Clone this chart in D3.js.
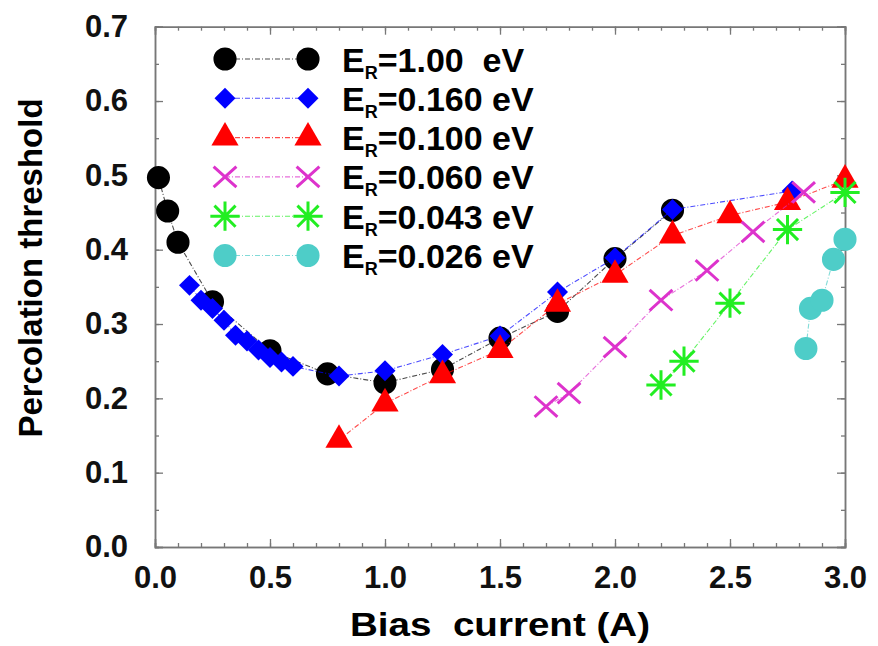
<!DOCTYPE html>
<html>
<head>
<meta charset="utf-8">
<title>Percolation threshold</title>
<script src="https://cdn.jsdelivr.net/npm/d3@7"></script>
<style>
  body { margin: 0; background: #fff; }
  svg { font-family: "Liberation Sans", Arial, Helvetica, sans-serif; font-weight: bold; }
  .frame path.domain { stroke: #777; stroke-width: 1.5; }
  .frame line { stroke: #777; stroke-width: 1.3; }
  .frame text { fill: #111; font-size: 31px; font-weight: bold; }
</style>
</head>
<body>
<script>
// series: percolation threshold vs bias current, one per E_R
var labels = ["1.00  eV", "0.160 eV", "0.100 eV", "0.060 eV", "0.043 eV", "0.026 eV"]

var x100 = [0.015, 0.055, 0.1, 0.25, 0.5, 0.75, 1.0, 1.25, 1.5, 1.75, 2.0, 2.25]
var y100 = [0.497, 0.452, 0.410, 0.330, 0.264, 0.233, 0.221, 0.239, 0.281, 0.317, 0.388, 0.453]

var x160 = [0.15, 0.2, 0.25, 0.3, 0.35, 0.4, 0.45, 0.5, 0.55, 0.6, 0.8, 1.0, 1.25, 1.5, 1.75, 2.0, 2.25, 2.77]
var y160 = [0.352, 0.332, 0.321, 0.305, 0.285, 0.277, 0.265, 0.255, 0.249, 0.243, 0.230, 0.237, 0.259, 0.284, 0.343, 0.389, 0.454, 0.479]

var x010 = [0.8, 1.0, 1.25, 1.5, 1.75, 2.0, 2.25, 2.5, 2.75, 3.0]
var y010 = [0.144, 0.193, 0.231, 0.265, 0.327, 0.366, 0.419, 0.446, 0.464, 0.494]

var x060 = [1.7, 1.8, 2.0, 2.2, 2.4, 2.6, 2.82]
var y060 = [0.189, 0.207, 0.269, 0.332, 0.372, 0.424, 0.477]

var x043 = [2.2, 2.3, 2.5, 2.75, 3.0]
var y043 = [0.218, 0.250, 0.328, 0.427, 0.477]

var x026 = [2.83, 2.85, 2.9, 2.95, 3.0]
var y026 = [0.267, 0.321, 0.332, 0.387, 0.414]

var xTicks = [0, 0.5, 1.0, 1.5, 2.0, 2.5, 3.0]
var yTicks = [0, 0.1, 0.2, 0.3, 0.4, 0.5, 0.6, 0.7]

var W = 878, H = 646
var margin = { left: 155, top: 26.7, right: 33, bottom: 99 }
var width = W - margin.left - margin.right
var height = H - margin.top - margin.bottom

var svg = d3.select("body").append("svg")
            .attr("width", W).attr("height", H)

var g = svg.append("g")
           .attr("transform", "translate(" + margin.left + "," + margin.top + ")")

var x = d3.scaleLinear().domain([0, 3]).range([0, width])
var y = d3.scaleLinear().domain([0, 0.7]).range([height, 0])

var fmt = d3.format(".1f")
var xMinor = d3.range(0, 31).map(function(i){ return i / 10 })
var yMinor = d3.range(0, 15).map(function(i){ return i / 20 })

// minor ticks on all four sides (pointing inward)
g.append("g").attr("class", "frame").attr("transform", "translate(0," + height + ")")
 .call(d3.axisBottom(x).tickValues(xMinor).tickSize(-4).tickFormat(""))
g.append("g").attr("class", "frame")
 .call(d3.axisTop(x).tickValues(xMinor).tickSize(-4).tickFormat(""))
g.append("g").attr("class", "frame")
 .call(d3.axisLeft(y).tickValues(yMinor).tickSize(-4).tickFormat(""))
g.append("g").attr("class", "frame").attr("transform", "translate(" + width + ",0)")
 .call(d3.axisRight(y).tickValues(yMinor).tickSize(-4).tickFormat(""))

// major ticks + labels
g.append("g").attr("class", "frame").attr("transform", "translate(0," + height + ")")
 .call(d3.axisBottom(x).tickValues(xTicks).tickSize(-8).tickPadding(19).tickFormat(fmt))
g.append("g").attr("class", "frame")
 .call(d3.axisTop(x).tickValues(xTicks).tickSize(-8).tickFormat(""))
g.append("g").attr("class", "frame")
 .call(d3.axisLeft(y).tickValues(yTicks).tickSize(-8).tickPadding(27).tickFormat(fmt))
g.append("g").attr("class", "frame").attr("transform", "translate(" + width + ",0)")
 .call(d3.axisRight(y).tickValues(yTicks).tickSize(-8).tickFormat(""))

// axis titles
svg.append("text")
   .attr("x", margin.left + width / 2).attr("y", 636)
   .attr("text-anchor", "middle")
   .attr("font-size", "34px")
   .attr("textLength", 300)
   .attr("lengthAdjust", "spacingAndGlyphs")
   .style("white-space", "pre")
   .text("Bias  current (A)")

svg.append("text")
   .attr("transform", "translate(42,268) rotate(-90)")
   .attr("text-anchor", "middle")
   .attr("font-size", "33px")
   .text("Percolation threshold")

// custom stroked markers
var crossSym = {
  draw: function(ctx, size) {
    var r = Math.sqrt(size) / 2
    ctx.moveTo(-r, -r * 0.9); ctx.lineTo(r, r * 0.9)
    ctx.moveTo(-r, r * 0.9); ctx.lineTo(r, -r * 0.9)
  }
}
var starSym = {
  draw: function(ctx, size) {
    var r = Math.sqrt(size) / 2, d = r * 0.72
    ctx.moveTo(-r, 0); ctx.lineTo(r, 0)
    ctx.moveTo(0, -r); ctx.lineTo(0, r)
    ctx.moveTo(-d, -d); ctx.lineTo(d, d)
    ctx.moveTo(-d, d); ctx.lineTo(d, -d)
  }
}
var diamondSym = {
  draw: function(ctx, size) {
    var r = Math.sqrt(size) / 2
    ctx.moveTo(0, -r); ctx.lineTo(r, 0); ctx.lineTo(0, r); ctx.lineTo(-r, 0); ctx.closePath()
  }
}

var series = [
  { xs: x100, ys: y100, color: "#000000", sym: d3.symbolCircle, size: 420, fill: true },
  { xs: x160, ys: y160, color: "#0000ff", sym: diamondSym, size: 440, fill: true },
  { xs: x010, ys: y010, color: "#ff0000", sym: d3.symbolTriangle, size: 320, fill: true },
  { xs: x060, ys: y060, color: "#dd33cc", sym: crossSym, size: 520, fill: false },
  { xs: x043, ys: y043, color: "#22ee22", sym: starSym, size: 860, fill: false },
  { xs: x026, ys: y026, color: "#4ecdc8", sym: d3.symbolCircle, size: 420, fill: true }
]

var line = d3.line()
             .x(function(d){ return x(d[0]) })
             .y(function(d){ return y(d[1]) })

function styleMark(sel, s) {
  sel.attr("d", d3.symbol().type(s.sym).size(s.size))
  if (s.fill) sel.attr("fill", s.color).attr("stroke", "none")
  else sel.attr("fill", "none").attr("stroke", s.color).attr("stroke-width", 3)
}

series.forEach(function(s) {
  var pts = s.xs.map(function(v, i){ return [v, s.ys[i]] })
  g.append("path")
   .datum(pts)
   .attr("d", line)
   .attr("fill", "none")
   .attr("stroke", s.color)
   .attr("stroke-width", 1.1)
   .attr("stroke-dasharray", "5,2,1,2")
   .attr("opacity", 0.7)
  g.append("g").selectAll("path")
   .data(pts)
   .enter()
   .append("path")
   .attr("transform", function(d){ return "translate(" + x(d[0]) + "," + y(d[1]) + ")" })
   .call(styleMark, s)
})

// legend
var leg = svg.append("g")
series.forEach(function(s, i) {
  var cy = 59 + i * 39.3
  leg.append("line")
     .attr("x1", 225).attr("x2", 308).attr("y1", cy).attr("y2", cy)
     .attr("stroke", s.color).attr("stroke-width", 1.1)
     .attr("stroke-dasharray", "5,2,1,2").attr("opacity", 0.7)
  ;[225, 308].forEach(function(px) {
    leg.append("path")
       .attr("transform", "translate(" + px + "," + cy + ")")
       .call(styleMark, s)
  })
  var t = leg.append("text")
             .attr("x", 342).attr("y", cy + 12.5)
             .attr("font-size", "34px")
             .style("white-space", "pre")
  t.append("tspan").text("E")
  t.append("tspan").attr("font-size", "18px").attr("dy", 7).text("R")
  t.append("tspan").attr("dy", -7).text("=" + labels[i])
})
</script>
</body>
</html>
